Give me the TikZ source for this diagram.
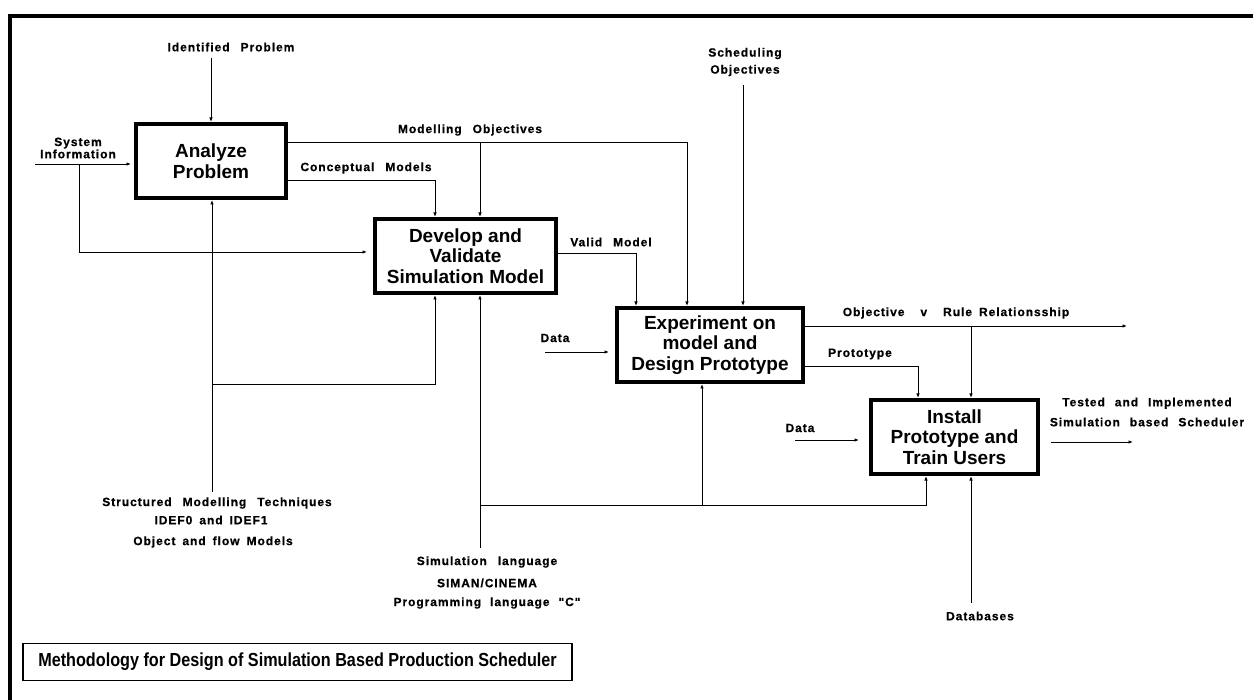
\documentclass[tikz,border=0pt]{standalone}
\usepackage{fontspec}
\usepackage{graphicx}
\setmainfont{Liberation Sans}
\newfontfamily\lblfamily[LetterSpace=8,BoldFeatures={FakeBold=0.6}]{Liberation Sans}
\usetikzlibrary{arrows.meta}
% label text: bold, slightly tracked, wide word gaps
\newcommand\lblsetup{\lblfamily\fontsize{12}{13}\selectfont\bfseries\spaceskip=11pt plus 1pt\relax}
\newcommand\lblnarrow{\lblfamily\fontsize{12}{13}\selectfont\bfseries\spaceskip=7pt plus 1pt\relax}
\newcommand\lblmid{\lblfamily\fontsize{12}{13}\selectfont\bfseries\spaceskip=9pt plus 1pt\relax}
\newcommand\lbltight{\lblfamily\fontsize{12}{10.5}\selectfont\bfseries}
\newcommand\lblloose{\lblfamily\fontsize{12}{17}\selectfont\bfseries}
\newcommand\lblwide{\lblfamily\fontsize{12}{20}\selectfont\bfseries\spaceskip=10pt plus 1pt\relax}
\begin{document}
\begin{tikzpicture}[x=1pt,y=-1pt,
  proc/.style={draw, line width=4pt, fill=white, inner sep=0pt,
    minimum height=74pt, align=center,
    font=\fontsize{19}{20.5}\selectfont\bfseries},
  lbl/.style={inner sep=0pt, align=center, font=\lblsetup},
  lbln/.style={inner sep=0pt, align=center, font=\lblnarrow},
  conn/.style={line width=0.9pt, -{Latex[length=4.5pt,width=3.5pt]}},
  frameline/.style={line width=4pt},
  titlebox/.style={draw, line width=1.2pt, inner sep=0pt,
    minimum width=549pt, minimum height=37pt},
]
\useasboundingbox (0,0) rectangle (1253,700);

% outer frame (top and left edges)
\draw[frameline] (10,700) -- (10,16) -- (1253,16);

% activity boxes
\node[proc, minimum width=150pt] (ap) at (211,161) {Analyze\\Problem};
\node[proc, minimum width=181pt] (dv) at (465.5,256) {Develop and\\Validate\\Simulation Model};
\node[proc, minimum width=186pt] (ex) at (710,345) {Experiment on\\model and\\Design Prototype};
\node[proc, minimum width=167pt] (in) at (954.5,437) {Install\\Prototype and\\Train Users};

% --- inputs and controls of Analyze Problem
\node[lbl] (ipl) at (231,47) {Identified Problem};
\coordinate (ipS) at (211,58);
\draw[conn] (ipS) -- (ap.north);

\node[lbl, font=\lbltight] (sil) at (78,148) {System\\Information};
\coordinate (siS) at (35,164);
\coordinate (siB) at (79,164);
\coordinate (siR) at (79,252);
\draw[conn, shorten >=3pt] (siS) -- (siS -| ap.west);
\draw[conn, shorten >=6pt] (siB) -- (siR) -- (dv.west |- siR);

% --- outputs of Analyze Problem
\node[lbl] (cml) at (366,168) {Conceptual Models};
\coordinate (cmK) at (435,180);
\draw[conn] (ap.east |- cmK) -- (cmK) -- (dv.north -| cmK);

\node[lbl] (mol) at (470,130) {Modelling Objectives};
\coordinate (moK) at (687,142);
\coordinate (moB) at (480,142);
\draw[conn] (ap.east |- moK) -- (moK) -- (ex.north -| moK);
\draw[conn] (moB) -- (dv.north -| moB);

% --- output of Develop and Validate
\node[lbl] (vml) at (611,242) {Valid Model};
\coordinate (vmK) at (636,253);
\draw[conn] (dv.east |- vmK) -- (vmK) -- (ex.north -| vmK);

% --- controls and inputs of Experiment
\node[lbl, font=\lblloose] (sol) at (745,62) {Scheduling\\Objectives};
\coordinate (soS) at (743,85);
\draw[conn] (soS) -- (ex.north -| soS);

\node[lbl] (d1l) at (555,338) {Data};
\coordinate (d1S) at (545,352);
\draw[conn, shorten >=6pt] (d1S) -- (ex.west |- d1S);

% --- outputs of Experiment
\node[lbl] (orl) at (956,313) {Objective\hspace{5pt} v\hspace{5pt} Rule\hspace{-4pt} Relationsship};
\coordinate (orK) at (971,326);
\coordinate (orE) at (1127,326);
\draw[conn] (ex.east |- orE) -- (orE);
\draw[conn] (orK) -- (in.north -| orK);

\node[lbl] (ptl) at (860,354) {Prototype};
\coordinate (ptK) at (918,366);
\draw[conn] (ex.east |- ptK) -- (ptK) -- (in.north -| ptK);

% --- inputs and outputs of Install
\node[lbl] (d2l) at (800,428) {Data};
\coordinate (d2S) at (795,440);
\draw[conn, shorten >=10pt] (d2S) -- (in.west |- d2S);

\node[lbl, font=\lblwide] (til) at (1147,412) {Tested and Implemented\\Simulation based Scheduler};
\coordinate (tiE) at (1133,442);
\draw[conn, shorten <=11pt] (in.east |- tiE) -- (tiE);

\node[lbl] (dbl) at (980,616) {Databases};
\coordinate (dbS) at (971,603);
\draw[conn] (dbS) -- (in.south -| dbS);

% --- mechanisms
\node[lbl] (sm1) at (217,503) {Structured Modelling Techniques};
\node[lbln] (sm2) at (211,520) {IDEF0 and IDEF1};
\node[lbln] (sm3) at (213,542) {Object and flow Models};
\coordinate (smS) at (212,492);
\coordinate (smB) at (212,384);
\coordinate (smK) at (435,384);
\draw[conn] (smS) -- (ap.south -| smS);
\draw[conn] (smB) -- (smK) -- (dv.south -| smK);

\node[lbl] (sl1) at (487,562) {Simulation language};
\node[lbln] (sl2) at (487,583) {SIMAN/CINEMA};
\node[lbl, font=\lblmid] (sl3) at (487,603) {Programming language "C"};
\coordinate (slS) at (480,548);
\coordinate (slB) at (480,505);
\coordinate (slK) at (926,505);
\coordinate (slX) at (702,505);
\draw[conn] (slS) -- (dv.south -| slS);
\draw[conn] (slB) -- (slK) -- (in.south -| slK);
\draw[conn] (slX) -- (ex.south -| slX);

% caption box
\node[titlebox] (ttl) at (297.5,662)
  {\scalebox{0.9}[1.05]{\fontsize{18}{20}\selectfont\bfseries Methodology for Design of Simulation Based Production Scheduler}};
\end{tikzpicture}
\end{document}
